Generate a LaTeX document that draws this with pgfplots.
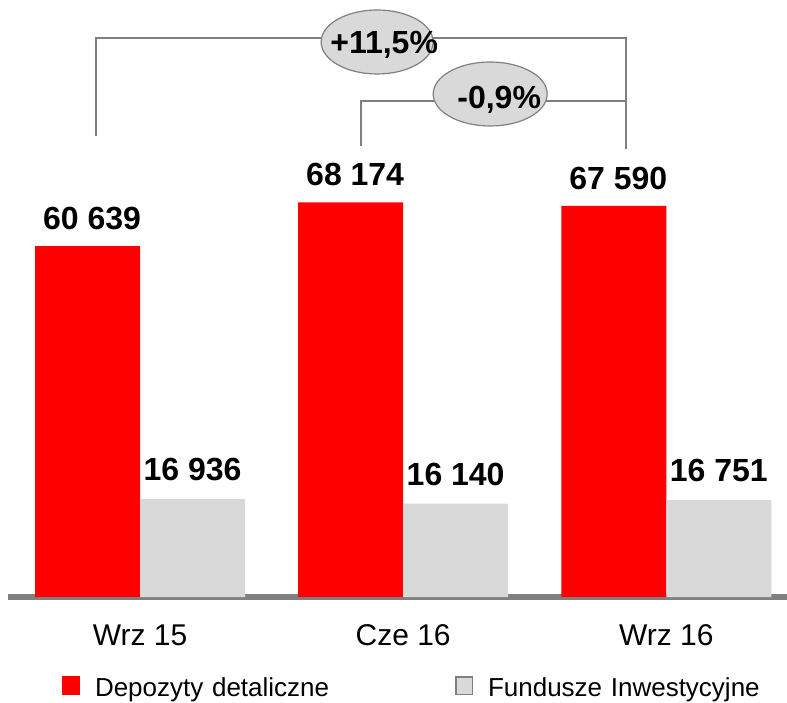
\documentclass[border=0pt]{standalone}
\usepackage{pgfplots}
\pgfplotsset{compat=1.18}
\usepackage{fontspec}
\setmainfont{Liberation Sans}
\definecolor{barred}{RGB}{255,0,0}
\definecolor{bargray}{RGB}{217,217,217}
\definecolor{linegray}{RGB}{128,128,128}
\begin{document}
\begin{tikzpicture}
\useasboundingbox (-8pt,-105pt) rectangle (779pt,597pt);
\begin{axis}[
  at={(0pt,0pt)}, anchor=south west,
  scale only axis, width=779pt, height=597pt,
  xmin=-0.50190, xmax=2.46008,
  ymin=0, ymax=103144,
  ybar=0pt, bar width=105pt,
  axis y line=none,
  axis x line*=bottom,
  x axis line style={-, draw=linegray, line width=6pt},
  xtick={0,1,2}, xticklabels={Wrz 15, Cze 16, Wrz 16},
  major tick length=0pt,
  xticklabel style={anchor=base, yshift=-48pt, font=\fontsize{30}{36}\selectfont, inner sep=0pt},
  clip=false,
  nodes near coords,
  point meta=explicit symbolic,
  every node near coord/.append style={font=\fontsize{32}{38}\selectfont\bfseries, inner sep=0pt},
  legend columns=2,
  legend style={at={(0.06932,-0.13233)}, anchor=north west, draw=none, fill=none,
    inner sep=0pt, outer sep=0pt, font=\fontsize{26}{31}\selectfont,
    nodes={inner sep=0pt, text width=360pt, align=left, yshift=7pt},
    /tikz/every odd column/.append style={column sep=15pt}},
]
\addplot[fill=barred, draw=none,
  every node near coord/.append style={yshift=16pt, xshift=4.5pt},
  legend image code/.code={\fill[barred] (0pt,0pt) rectangle (18pt,19pt);}]
  coordinates {(0,60639) [60 639] (1,68174) [68 174] (2,67590) [67 590]};
\addplot[fill=bargray, draw=none,
  every node near coord/.append style={yshift=18pt},
  legend image code/.code={\draw[linegray, line width=1.5pt, fill=bargray] (0.75pt,0.75pt) rectangle (17.25pt,18.25pt);}]
  coordinates {(0,16936) [16 936] (1,16140) [16 140] (2,16751) [16 751]};
\legend{Depozyty detaliczne, Fundusze Inwestycyjne}
% brackets
\draw[linegray, line width=2pt] (axis cs:-0.1673,79648) |- (axis cs:1.848,96579) -- (axis cs:1.848,77400);
\draw[linegray, line width=2pt] (axis cs:0.8403,77920) |- (axis cs:1.848,85780);
\draw[linegray, line width=1.2pt, fill=bargray] (axis cs:0.9011,95888) ellipse [x radius=56pt, y radius=32pt];
\draw[linegray, line width=1.2pt, fill=bargray] (axis cs:1.3308,86904) ellipse [x radius=57pt, y radius=32pt];
\node[anchor=base, inner sep=0pt, font=\fontsize{32}{38}\selectfont\bfseries] at (axis cs:0.9278,93936) {+11,5\%};
\node[anchor=base, inner sep=0pt, font=\fontsize{32}{38}\selectfont\bfseries] at (axis cs:1.3650,84430) {-0,9\%};
\end{axis}
\end{tikzpicture}
\end{document}
